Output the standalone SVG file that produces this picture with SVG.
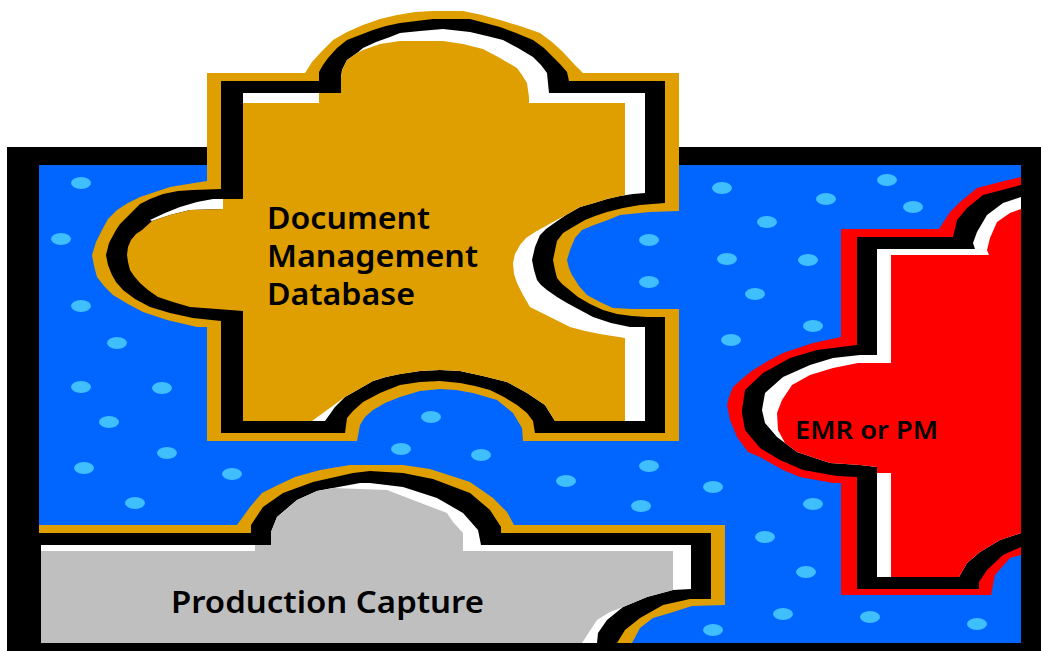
<svg xmlns="http://www.w3.org/2000/svg" xmlns:xlink="http://www.w3.org/1999/xlink" width="1041" height="651" viewBox="0 0 1041 651">
<style>
.k{fill:#000}.w{fill:#fff}.g{fill:#e09f00}.r{fill:#f00}.s{fill:#bfbfbf}
text{font-family:"Noto Sans","Liberation Sans",sans-serif;font-weight:600;fill:#000}
.l{font-size:30px}.m{font-size:25px}
</style>
<defs><ellipse id="b" rx="10" ry="6" fill="#40bfff"/></defs>
<rect width="1041" height="651" fill="#fff"/>
<g id="board">
<rect x="7" y="147" width="1034" height="504" fill="#000"/>
<rect x="39" y="165" width="982" height="478" fill="#0066ff"/>
<g id="bubbles">
<use href="#b" x="81" y="183"/><use href="#b" x="61" y="239"/><use href="#b" x="81" y="306"/><use href="#b" x="117" y="343"/><use href="#b" x="81" y="387"/><use href="#b" x="162" y="388"/><use href="#b" x="109" y="422"/><use href="#b" x="84" y="468"/><use href="#b" x="167" y="453"/><use href="#b" x="232" y="474"/><use href="#b" x="135" y="503"/><use href="#b" x="431" y="417"/><use href="#b" x="401" y="449"/><use href="#b" x="481" y="455"/><use href="#b" x="566" y="481"/><use href="#b" x="649" y="466"/><use href="#b" x="641" y="506"/><use href="#b" x="713" y="487"/><use href="#b" x="713" y="630"/><use href="#b" x="649" y="240"/><use href="#b" x="649" y="282"/><use href="#b" x="722" y="188"/><use href="#b" x="767" y="222"/><use href="#b" x="826" y="199"/><use href="#b" x="887" y="180"/><use href="#b" x="913" y="207"/><use href="#b" x="727" y="259"/><use href="#b" x="808" y="260"/><use href="#b" x="755" y="294"/><use href="#b" x="813" y="326"/><use href="#b" x="731" y="340"/><use href="#b" x="813" y="504"/><use href="#b" x="765" y="537"/><use href="#b" x="806" y="572"/><use href="#b" x="783" y="614"/><use href="#b" x="870" y="617"/><use href="#b" x="977" y="624"/>
</g>
</g>
<g id="document-management-database">
<polygon class="g" points="207,73 305,73 312,62 322,51 333,40 347,32 363,25 380,19 397,15 415,12 433,11 463,11 482,15 500,20 520,26 540,33 552,42 563,52 573,63 583,73 679,73 679,211 650,212 620,215 608,220 594,225 582,230 575,238 570,250 567,260 569,268 572,275 579,286 587,295 600,302 613,308 633,309 653,309 679,309 679,441 523,441 522,428 513,413 497,400 473,393 456,390 440,389 420,391 400,397 385,403 373,410 365,417 360,425 357,441 207,441 207,327 197,327 167,320 143,312 128,304 113,295 104,286 97,277 94,266 92,255 96,242 102,230 108,219 117,210 128,203 140,197 155,192 170,187 188,184 207,181"/>
<polygon class="k" points="221,81 319,81 319,72 323,65 328,58 337,48 347,40 360,35 373,30 386,26 400,23 433,19 470,19 485,23 500,27 516,33 533,40 544,48 553,57 560,64 567,72 569,81 665,81 665,203 640,205 623,208 607,212 595,216 585,220 573,227 563,233 557,241 553,260 555,270 557,278 562,284 567,288 578,297 590,304 603,310 617,314 632,316 647,317 665,317 665,433 535,433 533,421 527,413 517,405 504,397 490,390 475,386 460,383 440,381 420,382 400,385 380,393 363,402 353,411 347,418 345,433 221,433 221,321 193,318 170,313 150,307 135,299 123,290 116,282 112,275 108,265 106,255 109,243 116,230 120,224 127,217 140,204 150,199 163,194 178,191 193,190 221,189"/>
<polygon class="w" points="243,93 341,93 341,78 342,70 347,60 357,53 363,48 376,42 390,37 400,33 420,31 443,29 470,32 487,36 503,40 518,48 533,57 541,65 547,73 549,93 645,93 645,193 633,194 620,196 607,199 594,203 580,207 566,215 553,224 546,229 540,235 535,247 532,260 534,270 537,280 541,285 547,290 557,297 567,303 580,310 593,317 611,323 630,327 645,327 645,421 555,421 545,405 527,393 507,382 483,376 460,371 440,370 420,371 400,374 386,377 373,381 359,389 345,397 335,407 325,421 243,421"/>
<polygon class="w" points="150,220 165,213 180,207 197,202 213,199 223,199 223,209 190,210 170,215 152,221"/>
<polygon class="g" points="243,103 319,103 319,93 341,93 341,78 342,70 347,60 357,53 363,50 380,44 400,41 443,41 463,44 483,49 500,58 517,68 522,75 527,83 529,97 529,103 625,103 625,195 620,196 607,199 594,203 580,207 566,215 553,222 535,232 526,238 520,245 515,254 513,263 514,274 517,283 523,295 530,307 550,317 570,327 585,331 600,334 625,338 625,421 555,421 545,405 527,393 507,382 483,376 460,371 440,370 420,371 400,374 386,377 373,381 359,389 345,397 327,410 312,421 243,421 243,311 217,309 190,307 173,302 158,297 148,290 140,283 134,276 130,270 128,262 127,255 128,247 131,240 136,234 142,230 152,221 170,215 190,210 223,209 223,199 243,199"/>
<text class="l" x="267" y="229" textLength="163" lengthAdjust="spacingAndGlyphs">Document</text>
<text class="l" x="267" y="267" textLength="211" lengthAdjust="spacingAndGlyphs">Management</text>
<text class="l" x="267" y="305" textLength="148" lengthAdjust="spacingAndGlyphs">Database</text>
</g>
<g id="emr-or-pm">
<polygon class="r" points="841,229 939,229 950,212 960,202 977,188 1000,182 1021,177 1021,555 1010,558 995,575 991,595 841,595 841,483 833,483 800,477 783,470 760,457 748,452 737,437 730,420 727,405 729,397 733,387 743,378 753,370 768,361 783,353 813,343 841,337"/>
<polygon class="k" points="857,237 953,237 957,220 967,208 983,195 1002,190 1021,185 1021,547 1003,555 987,570 979,582 979,589 857,589 857,477 837,476 803,470 780,460 760,448 745,430 742,413 742,410 745,390 763,373 790,358 817,350 857,345"/>
<polygon class="w" points="877,249 975,249 973,243 977,232 987,215 1003,203 1021,197 1021,533 1000,540 980,552 967,563 959,577 877,577 877,467 860,465 830,463 797,452 777,437 765,423 762,410 765,393 783,377 810,365 833,358 860,355 877,355"/>
<polygon class="r" points="891,255 989,255 987,250 990,238 997,222 1010,213 1021,209 1021,533 1000,540 980,552 967,563 959,577 891,577 891,473 877,473 877,467 860,465 830,463 797,452 785,443 778,430 777,413 782,400 792,385 810,375 833,368 858,363 891,363"/>
<text class="m" x="795" y="439" textLength="143" lengthAdjust="spacingAndGlyphs">EMR or PM</text>
</g>
<g id="production-capture">
<polygon class="g" points="39,525 237,525 250,507 262,493 278,485 295,477 320,470 350,465 403,465 430,469 470,482 493,498 507,512 514,525 725,525 725,605 692,606 670,613 653,618 640,628 632,643 39,643"/>
<polygon class="k" points="39,533 251,533 251,525 263,507 283,493 313,482 353,473 370,471 403,473 433,479 470,493 490,510 501,527 501,533 711,533 711,599 690,599 663,605 640,618 625,630 617,643 39,643"/>
<polygon class="w" points="41,545 271,545 271,532 277,517 297,500 317,491 333,488 360,483 370,483 403,487 437,498 463,513 478,530 481,545 691,545 691,589 673,590 647,597 623,607 607,620 598,633 597,643 41,643"/>
<polygon class="s" points="41,551 255,551 255,545 271,545 271,532 277,517 297,500 317,491 333,488 360,489 387,490 413,500 447,513 453,522 463,533 463,551 673,551 673,590 647,597 623,607 610,612 597,620 582,643 41,643"/>
<text class="l" x="171" y="613" textLength="313" lengthAdjust="spacingAndGlyphs">Production Capture</text>
</g>
</svg>
